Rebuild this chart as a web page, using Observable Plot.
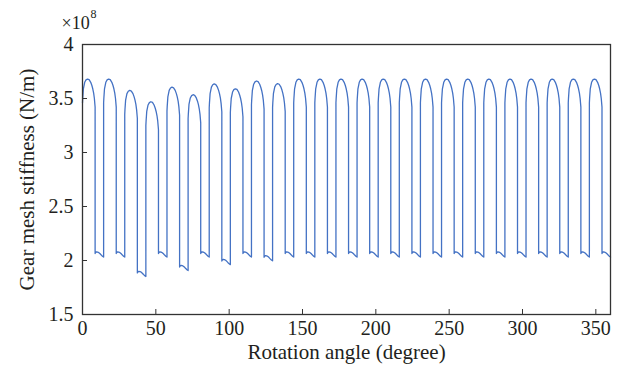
<!DOCTYPE html>
<html>
<head>
<meta charset="utf-8">
<script src="https://cdn.jsdelivr.net/npm/d3@7"></script>
<script src="https://cdn.jsdelivr.net/npm/@observablehq/plot@0.6"></script>
<style>
  html, body { margin: 0; padding: 0; background: #fff; }
  #chart { width: 625px; height: 381px; }
</style>
</head>
<body>
<div id="chart"></div>
<script>
// Tick labels
const xTicks = [0, 50, 100, 150, 200, 250, 300, 350];
const yTicks = [1.5, 2, 2.5, 3, 3.5, 4];
const xTitle = "Rotation angle (degree)";
const yTitle = "Gear mesh stiffness (N/m)";
const exponentBase = "×10";
const exponentPower = "8";

// Start angle of each mesh cycle (degree)
const cycleStartDeg = [0, 14.4, 28.8, 43.2, 57.6, 72, 86.4, 100.8, 115.2, 129.6, 144, 158.4, 172.8,
  187.2, 201.6, 216, 230.4, 244.8, 259.2, 273.6, 288, 302.4, 316.8, 331.2, 345.6];
// Peak stiffness of the double-tooth arc in each cycle (×10^8 N/m)
const peakStiffness = [3.68, 3.68, 3.575, 3.47, 3.605, 3.535, 3.635, 3.59, 3.662, 3.638, 3.68, 3.68, 3.68,
  3.68, 3.68, 3.68, 3.68, 3.68, 3.68, 3.68, 3.68, 3.68, 3.68, 3.68, 3.68];
// Stiffness at start of the single-tooth region in each cycle (×10^8 N/m)
const singleToothStart = [2.065, 2.065, 1.885, 2.065, 1.94, 2.065, 1.995, 2.065, 2.03, 2.065, 2.065, 2.065, 2.065,
  2.065, 2.065, 2.065, 2.065, 2.065, 2.065, 2.065, 2.065, 2.065, 2.065, 2.065, 2.065];

// Shape of one healthy cycle
const doubleProfileDeg = [0, 0.15, 0.6, 1.5, 2.4, 3.4, 4.5, 5.6, 6.4, 7.0, 7.6, 8.1, 8.6];
const doubleProfile    = [3.46, 3.50, 3.59, 3.65, 3.672, 3.68, 3.674, 3.65, 3.62, 3.59, 3.55, 3.50, 3.42];
const singleProfileDeg = [8.6, 9.0, 9.6, 10.4, 11.2, 12.0, 12.8, 13.6, 14.4];
const singleProfile    = [2.065, 2.075, 2.08, 2.078, 2.072, 2.062, 2.05, 2.04, 2.032];

const rows = [];
cycleStartDeg.forEach((s, k) => {
  const dPeak = peakStiffness[k] - doubleProfile[5];
  doubleProfileDeg.forEach((d, i) => rows.push({angle: s + d, k: doubleProfile[i] + dPeak}));
  const dLow = singleToothStart[k] - singleProfile[0];
  singleProfileDeg.forEach((d, i) => rows.push({angle: s + d, k: singleProfile[i] + dLow}));
});

const font = "'Liberation Serif', 'Times New Roman', serif";
const ink = "#231f20";

const chart = Plot.plot({
  width: 625,
  height: 381,
  marginLeft: 82,
  marginRight: 15,
  marginTop: 44,
  marginBottom: 67,
  style: {fontFamily: font, fontSize: "20px", color: ink, background: "#fff", overflow: "visible"},
  x: {domain: [0, 360]},
  y: {domain: [1.5, 4]},
  marks: [
    Plot.line(rows, {x: "angle", y: "k", stroke: "#4472c4", strokeWidth: 1.3}),
    Plot.frame({stroke: "#333", strokeWidth: 1.3}),
    Plot.tickX(xTicks, {x: d => d, insetTop: 265, stroke: "#333", strokeWidth: 1}),
    Plot.tickY(yTicks, {y: d => d, insetRight: 523, stroke: "#333", strokeWidth: 1}),
    Plot.axisX(xTicks, {tickSize: 0, tickPadding: 6, tickFormat: d => String(d), label: null, fontSize: 20}),
    Plot.axisY(yTicks, {tickSize: 0, tickPadding: 9, tickFormat: d => String(d), label: null, fontSize: 20}),
    Plot.text([xTitle], {frameAnchor: "bottom", dy: 44, text: d => d, fontSize: 21}),
    Plot.text([yTitle], {frameAnchor: "left", textAnchor: "middle", dx: -55, rotate: -90, text: d => d, fontSize: 21}),
    Plot.text([exponentBase], {frameAnchor: "top-left", textAnchor: "start", lineAnchor: "bottom", dx: -21, dy: -16, text: d => d, fontSize: 18}),
    Plot.text([exponentPower], {frameAnchor: "top-left", textAnchor: "start", lineAnchor: "bottom", dx: 8, dy: -27, text: d => d, fontSize: 12})
  ]
});
document.getElementById("chart").appendChild(chart);
</script>
</body>
</html>
